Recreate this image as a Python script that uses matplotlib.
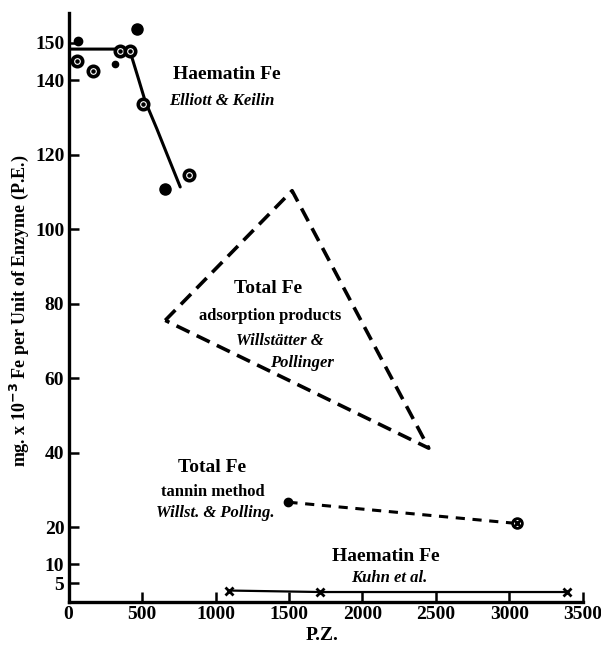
import matplotlib.pyplot as plt
import numpy as np

plt.rcParams['font.family'] = 'Liberation Serif'
plt.rcParams['font.weight'] = 'bold'
plt.rcParams['axes.labelweight'] = 'bold'

# Haematin Fe (Elliott & Keilin) - observed points
ek_ring_x = [56, 169, 347, 419, 510, 817]
ek_ring_y = [145.2, 142.5, 147.9, 147.9, 133.6, 114.5]
ek_dot_x = [67, 317, 465, 658]
ek_dot_y = [150.5, 144.3, 153.8, 110.8]
ek_dot_size = [6, 4.5, 8, 8]

# fitted curve
curve_x = [0, 385, 431, 476, 521, 601, 669, 760]
curve_y = [148.3, 148.3, 146.1, 140.3, 134.4, 126.9, 120.2, 111.3]

# Total Fe, adsorption products (triangle outline)
tri_x = [658, 1521, 2451, 658]
tri_y = [75.5, 110.3, 41.2, 75.5]

# Total Fe, tannin method
tan_x = [1496, 3050]
tan_y = [26.7, 21.0]

# Haematin Fe, Kuhn et al.
kuhn_x = [1090, 1714, 3391]
kuhn_y = [3.0, 2.6, 2.6]

yticks = [5, 10, 20, 40, 60, 80, 100, 120, 140, 150]
xticks = [0, 500, 1000, 1500, 2000, 2500, 3000, 3500]

fig = plt.figure(figsize=(6.01, 6.47), dpi=100)
ax = fig.add_axes([0.114, 0.070, 0.856, 0.910])

ax.plot(curve_x, curve_y, color='black', lw=2.2, solid_capstyle='round')
ax.plot(ek_ring_x, ek_ring_y, 'o', ms=7.5, mfc='white', mec='black', mew=2.6)
ax.plot(ek_ring_x, ek_ring_y, 'o', ms=2.2, color='black')
for x, y, s in zip(ek_dot_x, ek_dot_y, ek_dot_size):
    ax.plot(x, y, 'o', ms=s, color='black')

ax.plot(tri_x, tri_y, color='black', lw=2.6, dashes=(4, 2.2))

ax.plot(tan_x, tan_y, color='black', lw=2.2, dashes=(3, 2.5))
ax.plot(tan_x[0], tan_y[0], 'o', ms=6, color='black')
ax.plot(tan_x[1], tan_y[1], 'o', ms=7, mfc='white', mec='black', mew=2)
ax.plot(tan_x[1], tan_y[1], 'x', ms=6, color='black', mew=2)

ax.plot(kuhn_x, kuhn_y, color='black', lw=1.6, marker='x', ms=6, mew=2)

# annotations
ax.text(1080, 141.5, 'Haematin Fe', ha='center', va='center', fontsize=14)
ax.text(1040, 134.5, 'Elliott & Keilin', ha='center', va='center',
        fontsize=12, style='italic')
ax.text(1356, 84, 'Total Fe', ha='center', va='center', fontsize=14)
ax.text(1375, 76.8, 'adsorption products', ha='center', va='center', fontsize=12)
ax.text(1440, 70, 'Willstätter &', ha='center', va='center',
        fontsize=12, style='italic')
ax.text(1590, 64, 'Pollinger', ha='center', va='center',
        fontsize=12, style='italic')
ax.text(980, 36, 'Total Fe', ha='center', va='center', fontsize=14)
ax.text(980, 29.4, 'tannin method', ha='center', va='center', fontsize=12)
ax.text(995, 23.7, 'Willst. & Polling.', ha='center', va='center',
        fontsize=12, style='italic')
ax.text(2158, 12.2, 'Haematin Fe', ha='center', va='center', fontsize=14)
ax.text(2180, 6.3, 'Kuhn et al.', ha='center', va='center',
        fontsize=12, style='italic')

ax.set_xlim(0, 3500)
ax.set_ylim(0, 158)
ax.set_xticks(xticks)
ax.set_yticks(yticks)
ax.tick_params(direction='in', length=7, width=1.8, labelsize=14, pad=3)
ax.spines['top'].set_visible(False)
ax.spines['right'].set_visible(False)
ax.spines['left'].set_linewidth(2.4)
ax.spines['bottom'].set_linewidth(2.4)
ax.set_xlabel('P.Z.', fontsize=14)
ax.xaxis.set_label_coords(0.492, -0.043)
ax.set_ylabel('mg. x 10$^{-3}$ Fe per Unit of Enzyme (P.E.)', fontsize=13)
ax.yaxis.set_label_coords(-0.072, 0.495)

fig.savefig('out.png', dpi=100)
